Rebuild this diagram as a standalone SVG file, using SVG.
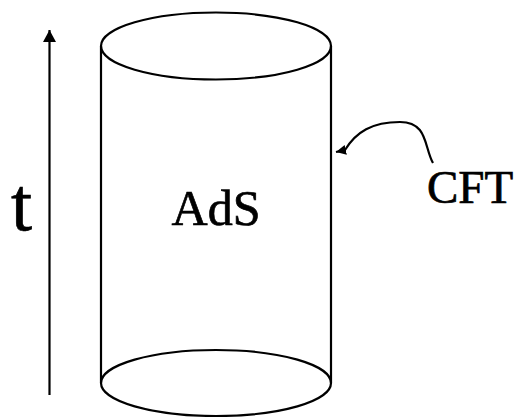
<svg xmlns="http://www.w3.org/2000/svg" width="515" height="417" viewBox="0 0 515 417">
<style>
.s{fill:none;stroke:#000;stroke-width:2.2}
.tx{font-family:"Liberation Serif","Times New Roman",serif;fill:#000;stroke:#000;stroke-width:0.7}
</style>
<defs>
<marker id="ah" markerUnits="userSpaceOnUse" markerWidth="14" markerHeight="14" refX="12" refY="6.5" orient="auto">
<path d="M0,0 L12,6.5 L0,13 Z" fill="#000"/>
</marker>
<marker id="ah2" markerUnits="userSpaceOnUse" markerWidth="12" markerHeight="12" refX="10" refY="5" orient="auto">
<path d="M0,0 L10,5 L0,10 Z" fill="#000"/>
</marker>
</defs>
<g id="cylinder">
<ellipse class="s" cx="216" cy="46" rx="115" ry="33.5"/>
<line class="s" x1="101" y1="46" x2="101" y2="383"/>
<line class="s" x1="331" y1="46" x2="331" y2="383"/>
<ellipse class="s" cx="216" cy="383" rx="115" ry="33"/>
<text class="tx" x="216" y="225" font-size="50" text-anchor="middle">AdS</text>
</g>
<g id="time">
<text class="tx" x="11" y="230" font-size="76">t</text>
</g>
<g id="cft">
<text class="tx" x="427" y="203" font-size="47">CFT</text>
</g>
<g id="connectors">
<line class="s" x1="49.5" y1="395" x2="49.5" y2="30" marker-end="url(#ah)"/>
<path class="s" d="M433,163 C424,147 428,122 400,122 C372,122 356,132 345,150 L336,152" stroke-width="1.8" marker-end="url(#ah2)"/>
</g>
</svg>
